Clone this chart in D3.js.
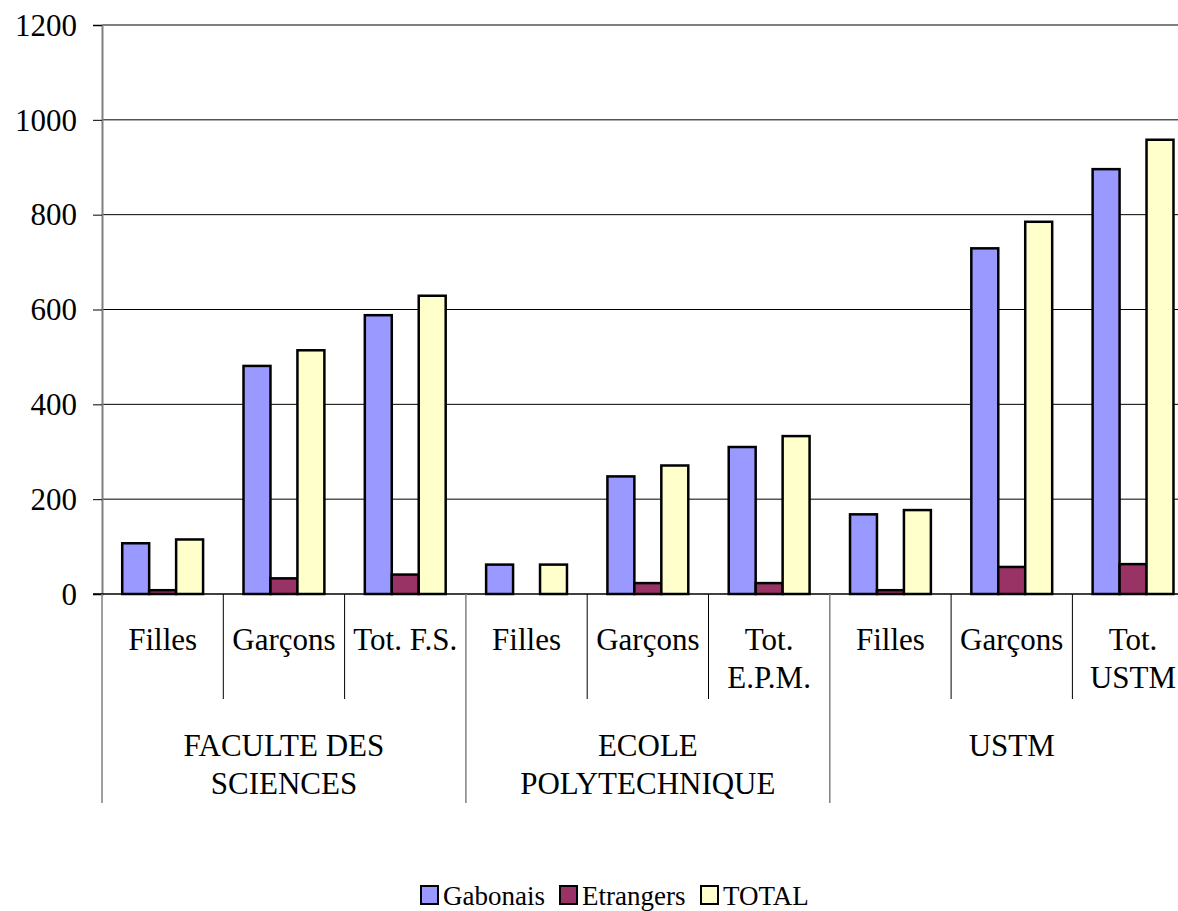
<!DOCTYPE html>
<html>
<head>
<meta charset="utf-8">
<script src="https://cdn.jsdelivr.net/npm/d3@7"></script>
<style>
  body { margin: 0; background: #fff; }
</style>
</head>
<body>
<svg id="chart" width="1178" height="911"></svg>
<script>
// categories (sub label, may wrap on two lines) and their groups
var categories = ["Filles", "Garçons", "Tot. F.S.", "Filles", "Garçons", "Tot. E.P.M.", "Filles", "Garçons", "Tot. USTM"];
var catLines = [["Filles"], ["Garçons"], ["Tot. F.S."], ["Filles"], ["Garçons"], ["Tot.", "E.P.M."], ["Filles"], ["Garçons"], ["Tot.", "USTM"]];
var groups = [["FACULTE DES", "SCIENCES"], ["ECOLE", "POLYTECHNIQUE"], ["USTM"]];
var series = ["Gabonais", "Etrangers", "TOTAL"];
var gabonais = [107, 481, 588, 62, 248, 310, 168, 729, 896];
var etrangers = [8, 33, 41, 0, 23, 23, 8, 57, 63];
var total = [115, 514, 629, 62, 271, 333, 177, 785, 958];
var colors = ["#9999FF", "#993366", "#FFFFCC"];
var yTicks = [0, 200, 400, 600, 800, 1000, 1200];

var FONT = "'Liberation Serif'";
var svg = d3.select("#chart");
var mLeft = 102, mTop = 25, mBottom = 594;
var catW = 121.3;
var mRight = mLeft + catW * categories.length;

var x = d3.scaleBand()
    .domain(d3.range(categories.length))
    .range([mLeft, mRight]);
// gap width 150% -> 3 bars take 3/4.5 of the band
var inner = x.bandwidth() * 3 / 4.5;
var xs = d3.scaleBand().domain(series).range([0, inner]);
var y = d3.scaleLinear().domain([0, 1200]).range([mBottom, mTop]);

// gridlines
svg.append("g").selectAll("line")
    .data(yTicks.filter(function (d) { return d > 0 && d < 1200; }))
    .enter().append("line")
    .attr("x1", mLeft).attr("x2", mRight)
    .attr("y1", function (d) { return y(d); }).attr("y2", function (d) { return y(d); })
    .style("stroke", "#000").style("stroke-width", 1);

// top border of plot area
svg.append("line")
    .attr("x1", mLeft).attr("x2", mRight).attr("y1", y(1200)).attr("y2", y(1200))
    .style("stroke", "#808080").style("stroke-width", 2);

// y axis
var yAxis = d3.axisLeft(y).tickValues(yTicks).tickFormat(d3.format("d")).tickSize(9).tickPadding(16);
var ga = svg.append("g").attr("transform", "translate(" + mLeft + ",0)").call(yAxis);
ga.select(".domain").style("stroke", "#808080").style("stroke-width", 2);
ga.selectAll(".tick line").style("stroke", "#000");
ga.selectAll("text")
    .style("font-size", "31px")
    .style("font-family", FONT)
    .style("fill", "#000")
    .attr("dy", "0.33em");

// bars
var data = [gabonais, etrangers, total];
var offset = (x.bandwidth() - inner) / 2;
series.forEach(function (s, si) {
    svg.append("g").selectAll("rect")
        .data(data[si])
        .enter().append("rect")
        .attr("x", function (d, i) { return x(i) + offset + xs(s); })
        .attr("width", xs.bandwidth())
        .attr("y", function (d) { return y(d); })
        .attr("height", function (d) { return y(0) - y(d); })
        .style("fill", colors[si])
        .style("stroke", "#000")
        .style("stroke-width", 2.5);
});

// baseline
svg.append("line")
    .attr("x1", mLeft - 9).attr("x2", mRight).attr("y1", mBottom).attr("y2", mBottom)
    .style("stroke", "#000").style("stroke-width", 1.5);

// category separators
var seps = d3.range(categories.length + 1);
svg.append("g").selectAll("line")
    .data(seps)
    .enter().append("line")
    .attr("x1", function (d) { return mLeft + d * x.step(); })
    .attr("x2", function (d) { return mLeft + d * x.step(); })
    .attr("y1", mBottom)
    .attr("y2", function (d) { return d % 3 === 0 ? 803 : 699; })
    .style("stroke", function (d) { return d % 3 === 0 ? "#808080" : "#000"; })
    .style("stroke-width", function (d) { return d % 3 === 0 ? 1.5 : 1; });

// category labels
catLines.forEach(function (lines, i) {
    var cx = x(i) + x.bandwidth() / 2;
    var t = svg.append("text")
        .attr("text-anchor", "middle")
        .style("font-family", FONT)
        .style("font-size", "31px");
    lines.forEach(function (l, li) {
        t.append("tspan").attr("x", cx).attr("y", 650 + li * 38).text(l);
    });
});

// group labels
groups.forEach(function (lines, gi) {
    var cx = mLeft + (gi * 3 + 1.5) * x.step();
    var t = svg.append("text")
        .attr("text-anchor", "middle")
        .style("font-family", FONT)
        .style("font-size", "31px");
    lines.forEach(function (l, li) {
        t.append("tspan").attr("x", cx).attr("y", 756 + li * 38).text(l);
    });
});

// legend
var legX = [421, 560, 701];
var leg = svg.append("g").selectAll("g")
    .data(series)
    .enter().append("g")
    .attr("transform", function (d, i) { return "translate(" + legX[i] + ",886)"; });
leg.append("rect")
    .attr("width", 17).attr("height", 18)
    .style("fill", function (d, i) { return colors[i]; })
    .style("stroke", "#000").style("stroke-width", 2);
leg.append("text")
    .attr("x", 22).attr("y", 19)
    .style("font-family", FONT)
    .style("font-size", "27px")
    .text(function (d) { return d; });
</script>
</body>
</html>
